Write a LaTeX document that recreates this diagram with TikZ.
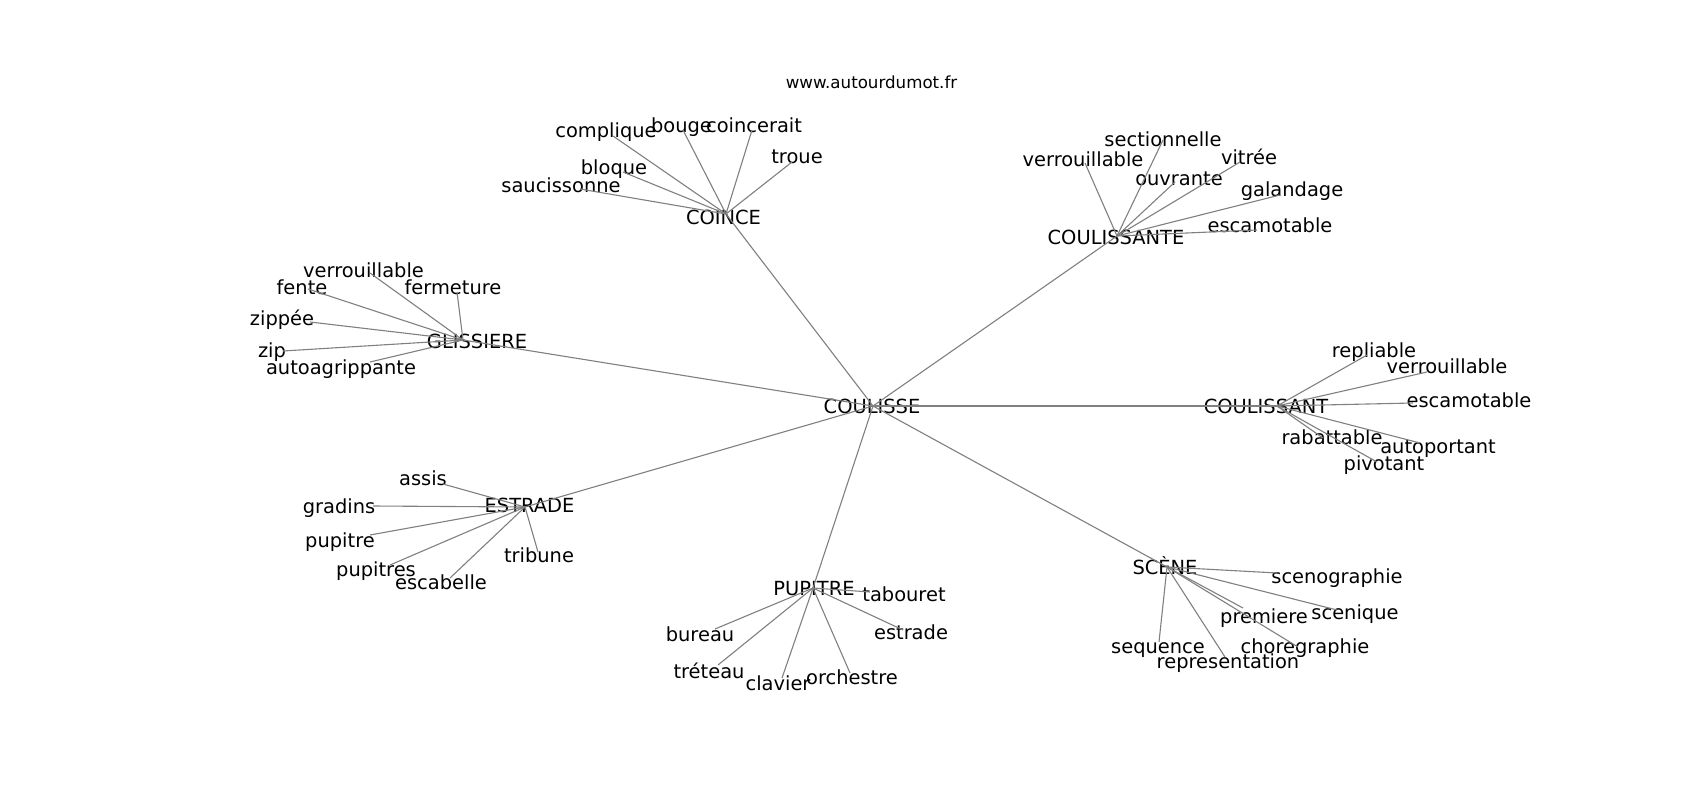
\documentclass[tikz,border=0pt]{standalone}
\usepackage{fontspec}
\setmainfont{DejaVu Sans}
\tikzset{
  lbl/.style={inner sep=0pt, font=\fontsize{19.44}{23}\selectfont, text height=0.76em, text depth=0.24em, anchor=center, yshift=-4pt},
  ttl/.style={inner sep=0pt, font=\fontsize{16.67}{20}\selectfont, anchor=base},
  edge/.style={draw=gray, line width=1.1pt}
}
\newcommand\wordat[6]{\coordinate (p#1) at (#2,#3); \node[lbl] (#1) at (#4,#5) {#6};}
\begin{document}
\begin{tikzpicture}[x=1pt,y=-1pt]
\useasboundingbox (0,0) rectangle (1700,800);
\fill[white] (0,0) rectangle (1700,800);
% hubs
\wordat{h0}{873}{406}{872}{407}{COULISSE}
\wordat{h1}{726}{214}{723.5}{218}{COINCE}
\wordat{h2}{1117}{236}{1116}{238}{COULISSANTE}
\wordat{h3}{463}{340}{477}{342}{GLISSIERE}
\wordat{h4}{1277}{406}{1266}{407}{COULISSANT}
\wordat{h5}{525}{507}{529.5}{505.6}{ESTRADE}
\wordat{h6}{813}{588}{814}{589}{PUPITRE}
\wordat{h7}{1167}{567}{1165}{568}{SCÈNE}
% COINCE
\wordat{a1}{613}{136}{606}{131}{complique}
\wordat{a2}{683}{130}{681.5}{125.6}{bouge}
\wordat{a3}{752}{130}{754}{125.6}{coincerait}
\wordat{a4}{792}{162}{797}{156.6}{troue}
\wordat{a5}{623}{172}{614}{168}{bloque}
\wordat{a6}{580}{189}{561}{185.6}{saucissonne}
% COULISSANTE
\wordat{b1}{1163}{140}{1163}{140}{sectionnelle}
\wordat{b2}{1085}{163}{1083}{160}{verrouillable}
\wordat{b3}{1240}{162}{1249}{157.6}{vitrée}
\wordat{b4}{1175}{182}{1179}{179}{ouvrante}
\wordat{b5}{1280}{195}{1292}{190}{galandage}
\wordat{b6}{1257}{230}{1270}{225.6}{escamotable}
% GLISSIERE
\wordat{c1}{370}{273}{363.5}{271}{verrouillable}
\wordat{c2}{308}{289}{302}{287.6}{fente}
\wordat{c3}{457}{292}{453}{287.6}{fermeture}
\wordat{c4}{310}{322}{282}{319}{zippée}
\wordat{c5}{283}{351}{272}{351}{zip}
\wordat{c6}{370}{362}{341}{368}{autoagrippante}
% COULISSANT
\wordat{d1}{1367}{355}{1374}{351}{repliable}
\wordat{d2}{1427}{372}{1447}{366.6}{verrouillable}
\wordat{d3}{1413}{403}{1469}{401}{escamotable}
\wordat{d4}{1323}{438}{1332}{437.6}{rabattable}
\wordat{d5}{1420}{443}{1438}{446.6}{autoportant}
\wordat{d6}{1377}{462}{1384}{464}{pivotant}
% ESTRADE
\wordat{e1}{443}{484}{423}{479}{assis}
\wordat{e2}{373}{506}{339}{506.6}{gradins}
\wordat{e3}{370}{535}{340}{541}{pupitre}
\wordat{e4}{390}{565}{376}{570}{pupitres}
\wordat{e5}{450}{578}{441}{583}{escabelle}
\wordat{e6}{538}{552}{539}{555.6}{tribune}
% PUPITRE
\wordat{f1}{870}{592}{904}{595}{tabouret}
\wordat{f2}{715}{629}{700}{635}{bureau}
\wordat{f3}{903}{630}{911}{633}{estrade}
\wordat{f4}{718}{665}{709}{672}{tréteau}
\wordat{f5}{782}{678}{778}{684}{clavier}
\wordat{f6}{850}{673}{852}{678}{orchestre}
% SCENE
\wordat{g1}{1277}{573}{1337}{577}{scenographie}
\wordat{g2}{1337}{610}{1355}{613}{scenique}
\wordat{g3}{1243}{608}{1264}{617}{premiere}
\wordat{g4}{1298}{647}{1305}{647}{choregraphie}
\wordat{g5}{1159}{642}{1158}{647}{sequence}
\wordat{g6}{1225}{657}{1228}{662}{representation}
% edges
\foreach \h in {h1,h2,h3,h4,h5,h6,h7} {\draw[edge] (ph0) -- (p\h);}
\foreach \i in {1,...,6} {
  \draw[edge] (ph1) -- (pa\i);
  \draw[edge] (ph2) -- (pb\i);
  \draw[edge] (ph3) -- (pc\i);
  \draw[edge] (ph4) -- (pd\i);
  \draw[edge] (ph5) -- (pe\i);
  \draw[edge] (ph6) -- (pf\i);
  \draw[edge] (ph7) -- (pg\i);
}
\node[ttl] (title) at (871.5,88.3) {www.autourdumot.fr};
\end{tikzpicture}
\end{document}
